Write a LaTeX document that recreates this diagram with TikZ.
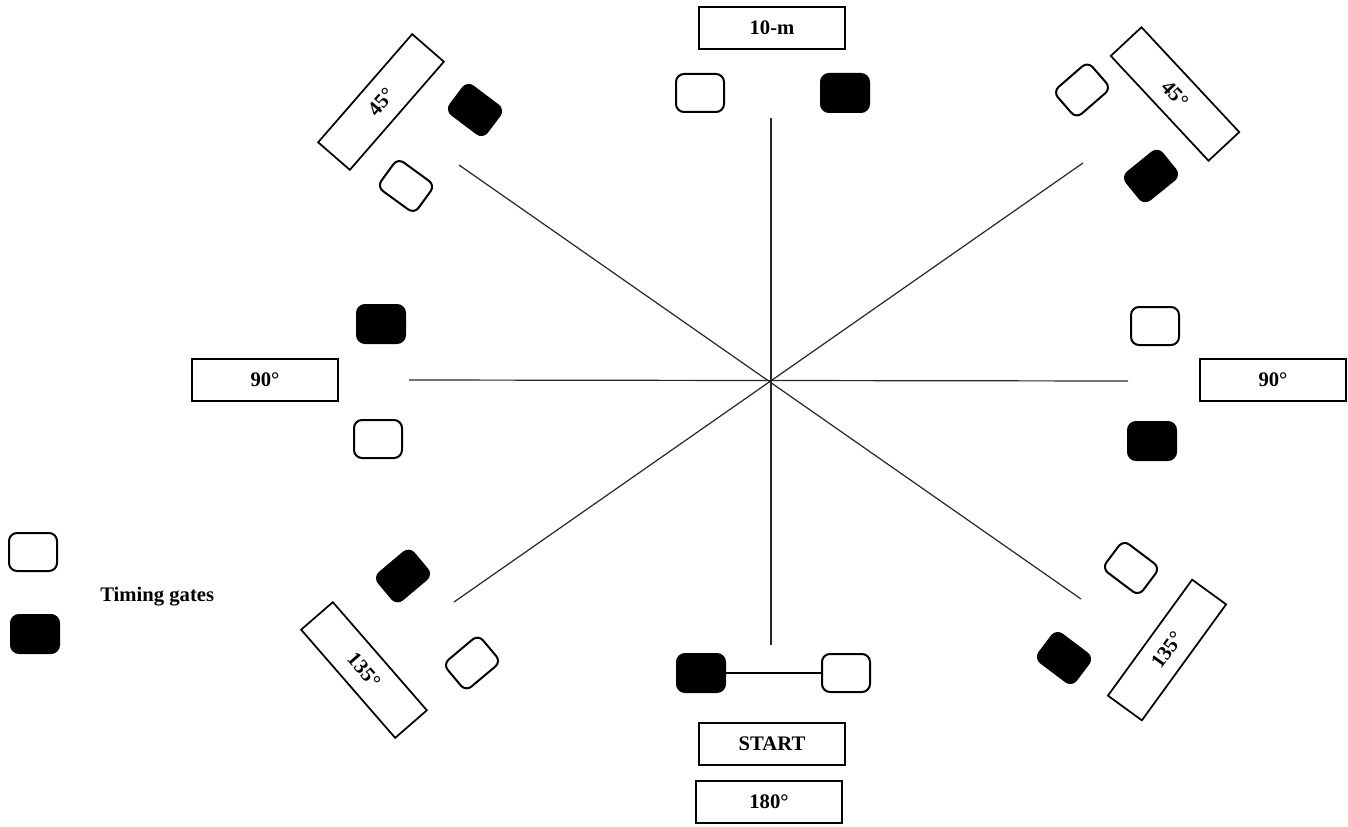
\documentclass[tikz,border=0pt]{standalone}
\usepackage{fontspec}
\setmainfont{Liberation Serif}
\tikzset{
  gate/.style={draw, line width=1.5pt, rounded corners=6pt, inner sep=0pt,
    minimum width=36pt, minimum height=28.5pt},
  rgate/.style={draw, line width=1.5pt, rounded corners=5.5pt, inner sep=0pt,
    minimum width=34.5pt, minimum height=26.5pt},
  wg/.style={fill=white},
  bg/.style={fill=black},
  lbl/.style={draw, line width=1.3pt, inner sep=0pt, minimum width=109.5pt,
    minimum height=31pt, font=\bfseries\fontsize{15.5}{18}\selectfont},
  rlbl/.style={lbl, minimum width=107.5pt, minimum height=31.5pt},
  star/.style={line width=0.9pt, draw=black!85},
}
\begin{document}
\begin{tikzpicture}[x=0.75pt,y=-0.75pt]
\useasboundingbox (0,0) rectangle (1348,827);
% star lines
\coordinate (vT) at (771,118);
\coordinate (vB) at (771,645);
\coordinate (hL) at (409,380);
\coordinate (hR) at (1128,381);
\coordinate (dNW) at (459,165);
\coordinate (dSE) at (1081,599);
\coordinate (dNE) at (1083,163);
\coordinate (dSW) at (454,602);
\draw[star] (vT) -- (vB);
\draw[star] (hL) -- (hR);
\draw[star] (dNW) -- (dSE);
\draw[star] (dNE) -- (dSW);
% top
\node[lbl] (top) at (772,28) {10-m};
\node[gate,wg] (tW) at (700,93) {};
\node[gate,bg] (tB) at (845,93) {};
% top-left
\node[rlbl, rotate=49] (tl) at (381,102) {45°};
\node[rgate,bg, rotate=-37] (tlB) at (475,110) {};
\node[rgate,wg, rotate=-36] (tlW) at (406,186) {};
% top-right
\node[rlbl, rotate=-47] (tr) at (1175,94) {45°};
\node[rgate,wg, rotate=41] (trW) at (1082,90) {};
\node[rgate,bg, rotate=39] (trB) at (1151,176) {};
% left
\node[lbl] (l) at (265,380) {90°};
\node[gate,bg] (lB) at (381,324) {};
\node[gate,wg] (lW) at (378,439) {};
% right
\node[lbl] (r) at (1273,380) {90°};
\node[gate,wg] (rW) at (1155,326) {};
\node[gate,bg] (rB) at (1152,441) {};
% bottom-left
\node[rlbl, rotate=-49] (bl) at (364,670) {135°};
\node[rgate,bg, rotate=40] (blB) at (403,576) {};
\node[rgate,wg, rotate=40] (blW) at (472,663) {};
% bottom-right
\node[rlbl, rotate=54] (br) at (1167,650) {135°};
\node[rgate,wg, rotate=-37] (brW) at (1131,568) {};
\node[rgate,bg, rotate=-37] (brB) at (1064,658) {};
% bottom
\node[gate,bg] (bB) at (701,673) {};
\node[gate,wg] (bW) at (846,673) {};
\draw[line width=1pt] (bB) -- (bW);
\node[lbl] (start) at (772,744) {START};
\node[lbl] (deg180) at (769,802) {180°};
% legend
\node[gate,wg] (legW) at (33,552) {};
\node[gate,bg] (legB) at (35,634) {};
\node[font=\bfseries\fontsize{15.5}{18}\selectfont, anchor=west, inner sep=0pt] (legT) at (100,597) {Timing gates};
\end{tikzpicture}
\end{document}
